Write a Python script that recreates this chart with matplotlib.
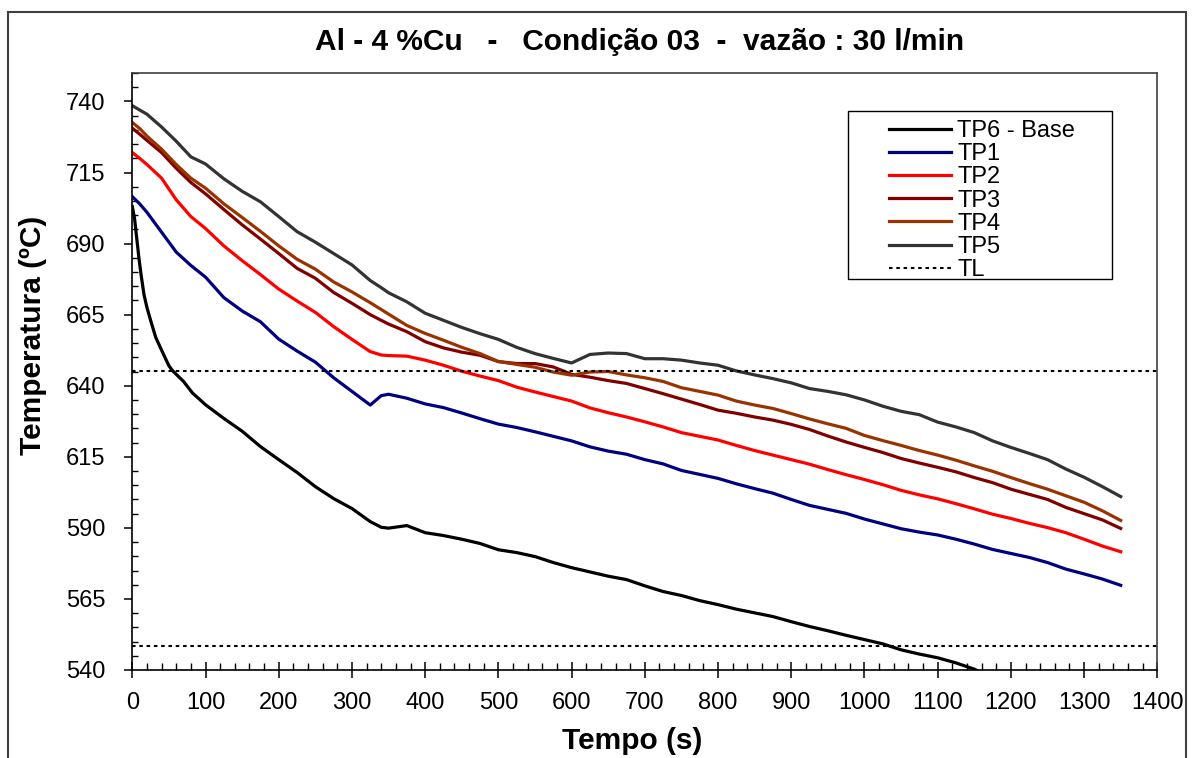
import numpy as np
import matplotlib
matplotlib.use("Agg")
import matplotlib.pyplot as plt
from matplotlib.ticker import MultipleLocator
from matplotlib.patches import Rectangle

plt.rcParams['font.family'] = ['Liberation Sans', 'DejaVu Sans']

# tempo (s) comum para TP1..TP5
tempo = [0, 10, 20, 40, 60, 80, 100, 125, 150, 175, 200, 225, 250, 275, 300, 325, 340,
         350, 375, 400, 425, 450, 475, 500, 525, 550, 575, 600, 625, 650, 675, 700, 725,
         750, 775, 800, 825, 850, 875, 900, 925, 950, 975, 1000, 1025, 1050, 1075, 1100,
         1125, 1150, 1175, 1200, 1225, 1250, 1275, 1300, 1325, 1350]

tp1 = [706.5, 704, 701, 694, 687, 682.3, 678.2, 671, 666.3, 662.5, 656.4, 652.2, 648.3, 642.8,
       638, 633.2, 636.5, 637, 635.6, 633.6, 632.3, 630.4, 628.4, 626.5, 625.3, 623.8, 622.2,
       620.6, 618.5, 617, 615.9, 614, 612.5, 610.2, 608.8, 607.4, 605.5, 603.8, 602.2, 600,
       597.9, 596.5, 595.1, 593.1, 591.4, 589.7, 588.5, 587.5, 586, 584.3, 582.4, 581, 579.6,
       577.8, 575.5, 573.8, 572, 569.8]

tp2 = [722, 720, 717.8, 713, 705.4, 699.5, 695.3, 689.2, 684, 679.1, 674, 669.8, 665.8, 660.8,
       656.3, 652, 650.8, 650.6, 650.4, 649, 647.2, 645.1, 643.4, 641.8, 639.5, 637.8, 636.2,
       634.6, 632.2, 630.5, 629, 627.3, 625.5, 623.5, 622.2, 620.9, 619, 617.2, 615.6, 614,
       612.4, 610.5, 608.7, 607, 605.2, 603.2, 601.6, 600.2, 598.5, 596.7, 594.8, 593.3, 591.6,
       590.1, 588.3, 586, 583.6, 581.6]

tp3 = [730.6, 728.5, 726.3, 722, 716.5, 711.5, 707.5, 702, 696.6, 691.6, 686.5, 681.3, 677.8,
       672.8, 669, 665, 663, 661.7, 659, 655.5, 653.3, 651.8, 650.7, 648.5, 647.8, 647.8, 646.6,
       644, 643, 641.8, 640.8, 639, 637.2, 635.3, 633.4, 631.4, 630.3, 629, 627.9, 626.4, 624.6,
       622.3, 620.2, 618.3, 616.5, 614.4, 612.8, 611.3, 609.7, 607.7, 605.9, 603.6, 601.8, 600,
       597.2, 595, 592.8, 589.8]

tp4 = [732.6, 730.5, 727.8, 723.2, 717.8, 713, 709.5, 704, 699.2, 694.3, 689.2, 684.5, 681,
       676.5, 673, 669.2, 666.8, 665.2, 661.2, 658.4, 656, 653.5, 651.3, 648.5, 647.5, 646.5,
       644.8, 643.7, 644.8, 645, 643.8, 642.8, 641.5, 639.3, 638, 636.7, 634.6, 633.2, 632,
       630.2, 628.3, 626.6, 625, 622.5, 620.7, 619, 617.2, 615.6, 613.8, 611.8, 609.9, 607.7,
       605.6, 603.6, 601.3, 599, 596, 592.6]

tp5 = [738.5, 737, 735.5, 731, 726, 720.5, 718, 712.8, 708.4, 704.7, 699.5, 694.2, 690.5, 686.5,
       682.5, 677, 674.5, 672.7, 669.5, 665.5, 663, 660.5, 658.3, 656.3, 653.5, 651.3, 649.6,
       648, 651, 651.5, 651.3, 649.5, 649.5, 649, 648, 647.2, 645.2, 643.8, 642.5, 641, 639,
       638, 636.8, 635, 632.8, 631, 629.8, 627.2, 625.5, 623.5, 620.6, 618.3, 616.2, 614,
       610.7, 607.8, 604.5, 601]

# TP6 - Base tem leitura própria (queda rápida no início)
tempo_base = [0, 3, 6, 9, 12, 16, 20, 25, 32, 40, 50, 55, 60, 70, 82, 100, 125, 150, 175, 200,
              225, 250, 275, 300, 325, 340, 350, 375, 400, 425, 450, 475, 500, 525, 550, 575,
              600, 625, 650, 675, 700, 725, 750, 775, 800, 825, 850, 875, 900, 925, 950, 975,
              1000, 1025, 1050, 1075, 1100, 1125, 1150, 1160]
tp6 = [703, 699, 692, 685, 679, 672, 667.5, 663, 657, 652.5, 647, 645.3, 644, 641.5, 637.5,
       633.3, 628.5, 624, 618.6, 614, 609.5, 604.5, 600.3, 596.8, 592.2, 590.2, 589.9, 590.8,
       588.3, 587.3, 586, 584.5, 582.3, 581.3, 579.9, 577.8, 576, 574.5, 573, 571.8, 569.6,
       567.6, 566.2, 564.4, 563, 561.4, 560.1, 558.8, 557, 555.3, 553.8, 552.2, 550.7, 549.2,
       547.1, 545.6, 544.3, 542.5, 540.3, 539]

tl = [645.2, 548.5]

W, H = 1193, 758
fig = plt.figure(figsize=(W / 100, H / 100), dpi=100)
ax = fig.add_axes([132.3 / W, 1 - 670 / H, 1025 / W, 597 / H])

lw = 2.3
ax.plot(tempo_base, tp6, color='black', lw=lw, label='TP6 - Base')
ax.plot(tempo, tp1, color='#000080', lw=lw, label='TP1')
ax.plot(tempo, tp2, color='#FF0000', lw=lw, label='TP2')
ax.plot(tempo, tp3, color='#800000', lw=lw, label='TP3')
ax.plot(tempo, tp4, color='#993300', lw=lw, label='TP4')
ax.plot(tempo, tp5, color='#333333', lw=lw, label='TP5')
for i, v in enumerate(tl):
    ax.axhline(v, color='black', lw=1.5, linestyle=(0, (1.7, 1.8)),
               label='TL' if i == 0 else None)

ax.set_xlim(0, 1400)
ax.set_ylim(540, 750)
ax.set_xticks(np.arange(0, 1401, 100))
ax.set_yticks(np.arange(540, 741, 25))
ax.xaxis.set_minor_locator(MultipleLocator(20))
ax.yaxis.set_minor_locator(MultipleLocator(5))
ax.tick_params(axis='x', which='major', direction='inout', length=11, width=1.1,
               labelsize=17, pad=10)
ax.tick_params(axis='x', which='minor', direction='in', length=4.8, width=1.0)
ax.tick_params(axis='y', which='major', direction='out', length=5.5, width=1.1,
               labelsize=17, pad=14)
ax.tick_params(axis='y', which='minor', direction='in', length=4.1, width=1.0)
for s in ax.spines.values():
    s.set_linewidth(1.2)
ax.spines['top'].set_color('#404040')
ax.spines['right'].set_color('#404040')

ax.set_xlabel('Tempo (s)', fontsize=21.5, fontweight='bold')
ax.xaxis.set_label_coords(0.488, (670 - 727) / 597)
ax.set_ylabel('Temperatura (ºC)', fontsize=21.5, fontweight='bold')
ax.yaxis.set_label_coords((47 - 132.3) / 1025, (670 - 335) / 597)

fig.text(0.5365, 1 - 42 / H, 'Al - 4 %Cu   -   Condição 03  -  vazão : 30 l/min',
         ha='center', va='center', fontsize=21.5, fontweight='bold')

# caixa da legenda desenhada à parte, como no Excel
fig.add_artist(Rectangle((848 / W, 1 - 279.3 / H), 264 / W, 168.6 / H,
                         transform=fig.transFigure, fill=False, edgecolor='black', lw=1.0))
leg = ax.legend(loc='upper left', bbox_to_anchor=(889 / W, 1 - 120 / H),
                bbox_transform=fig.transFigure, fontsize=17, frameon=False,
                borderaxespad=0, borderpad=0, labelspacing=0.05,
                handlelength=2.63, handletextpad=0.25)

fig.add_artist(Rectangle((8 / W, -0.05), 1178 / W, 1 - 12 / H + 0.05,
                         transform=fig.transFigure, fill=False, edgecolor='#404040', lw=1.5))

fig.savefig('out.png', dpi=100)
